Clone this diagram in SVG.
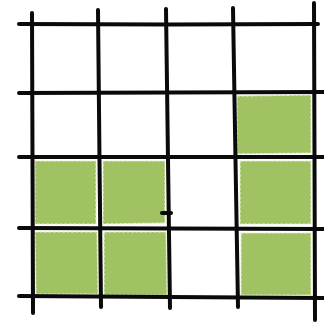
<svg xmlns="http://www.w3.org/2000/svg" width="324" height="323" viewBox="0 0 324 323">
  <style>
    .cell { fill: #a1c262; stroke: #e6eed2; stroke-width: 1.2; stroke-dasharray: 3 1.5; }
    .ln { fill: none; stroke: #0a0a0a; stroke-width: 4; stroke-linecap: round; stroke-linejoin: round; }
  </style>
  <rect width="324" height="323" fill="#ffffff"/>
  <g id="cells">
    <path class="cell" d="M237,96 L311,95 L311,153 L237,154 Z"/>
    <path class="cell" d="M35,161 L96,161 L96,224 L35,224 Z"/>
    <path class="cell" d="M103,161 L165,161 L165,223 L103,224 Z"/>
    <path class="cell" d="M240,161 L311,161 L311,224 L240,224 Z"/>
    <path class="cell" d="M35,232 L97,232 L98,294 L36,294 Z"/>
    <path class="cell" d="M104,232 L166,232 L167,295 L104,295 Z"/>
    <path class="cell" d="M241,233 L311,233 L311,295 L241,295 Z"/>
  </g>
  <g id="grid">
    <path class="ln" d="M32,13 L32.5,160 L33,313"/>
    <path class="ln" d="M98,10 L99.5,160 L101,307"/>
    <path class="ln" d="M166,9 L168,160 L170,308"/>
    <path class="ln" d="M233,8 L235.5,160 L238,307"/>
    <path class="ln" d="M314,3 L314.5,160 L315,320"/>
    <path class="ln" d="M19,24 L170,24.5 L318,24"/>
    <path class="ln" d="M19,93 L170,92.5 L324,92"/>
    <path class="ln" d="M19,157 L170,157 L324,157"/>
    <path class="ln" d="M19,228 L170,228.5 L324,229"/>
    <path class="ln" d="M19,296 L170,297 L324,298"/>
    <path class="ln" d="M162,213 L171,213"/>
  </g>
</svg>
